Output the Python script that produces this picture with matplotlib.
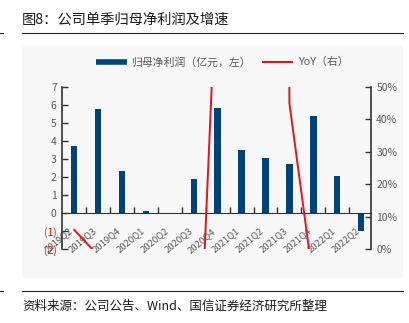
import matplotlib
matplotlib.use("Agg")
import matplotlib.pyplot as plt
from matplotlib.lines import Line2D
from matplotlib.patches import Rectangle
from matplotlib.ticker import FuncFormatter

plt.rcParams['font.family'] = ['Noto Sans CJK SC', 'DejaVu Sans']

# quarterly net profit attributable to parent (100m yuan) and its yoy growth
quarters = ['2019Q2', '2019Q3', '2019Q4', '2020Q1', '2020Q2', '2020Q3', '2020Q4',
            '2021Q1', '2021Q2', '2021Q3', '2021Q4', '2022Q1', '2022Q2']
profit = [3.70, 5.80, 2.36, 0.13, 0.0, 1.90, 5.86, 3.49, 3.08, 2.73, 5.37, 2.05, -1.0]
yoy = [0.059, -0.02, -0.40, -0.97, -1.00, -0.78, 0.93, 33.9, 20.0, 0.45, -0.10, -0.41, -1.11]

blue = '#00427a'
red = '#e3141c'
grey = '#595959'

fig = plt.figure(figsize=(4.10, 3.23), dpi=100)

# light panel behind the chart
fig.patches.append(Rectangle((22 / 410, 1 - 278 / 323), 381 / 410, 233 / 323,
                             transform=fig.transFigure, facecolor='#f7f7f7',
                             edgecolor='none', zorder=-5))

fig.text(22 / 410, 1 - 20 / 323, '图8：公司单季归母净利润及增速', fontsize=10.3,
         va='center', ha='left', color='#1a1a1a')
fig.add_artist(Line2D([22 / 410, 403 / 410], [1 - 33 / 323] * 2, color='#222222', lw=0.8))
fig.add_artist(Line2D([0, 3 / 410], [1 - 33 / 323] * 2, color='#222222', lw=0.8))
fig.add_artist(Line2D([22 / 410, 403 / 410], [1 - 291 / 323] * 2, color='#222222', lw=0.8))
fig.add_artist(Line2D([0, 3 / 410], [1 - 291 / 323] * 2, color='#222222', lw=0.8))
fig.text(22 / 410, 1 - 306 / 323, '资料来源：公司公告、Wind、国信证券经济研究所整理', fontsize=9,
         va='center', ha='left', color='#1a1a1a')

ax = fig.add_axes([62.3 / 410, 1 - 249 / 323, (370.7 - 62.3) / 410, (249 - 87) / 323])
ax.patch.set_visible(False)
x = list(range(len(quarters)))
ax.bar(x, profit, width=0.27, color=blue, zorder=2)
ax.set_xlim(-0.5, 12.4)
ax.set_ylim(-2, 7)
ax.set_yticks(range(-2, 8))
ax.yaxis.set_major_formatter(FuncFormatter(lambda v, p: f'({abs(int(v))})' if v < 0 else f'{int(v)}'))
ax.tick_params(axis='y', direction='in', length=4, width=1, color='#333333',
               labelsize=7.5, pad=4)

ax.spines['top'].set_visible(False)
ax.spines['right'].set_visible(False)
ax.spines['bottom'].set_position(('data', 0))
ax.spines['bottom'].set_color('#333333')
ax.spines['left'].set_color('#333333')
ax.spines['left'].set_linewidth(1.2)

ax.set_xticks(x)
ax.set_xticklabels(quarters, rotation=40, ha='right', va='top',
                   fontsize=6.8, color=grey)
ax.tick_params(axis='x', which='major', length=0, pad=9.5)
ax.set_xticks([i + 0.5 for i in range(12)], minor=True)
ax.tick_params(axis='x', which='minor', direction='in', length=4, width=1, color='#333333')

ax2 = ax.twinx()
ax2.plot(x, yoy, color=red, lw=1.4, zorder=3)
ax2.set_ylim(0, 0.5)
ax2.set_yticks([0, 0.1, 0.2, 0.3, 0.4, 0.5])
ax2.yaxis.set_major_formatter(FuncFormatter(lambda v, p: f'{v * 100:.0f}%'))
ax2.tick_params(axis='y', direction='in', length=4, width=1, color='#333333',
                labelsize=7.5, labelcolor=grey, pad=4)
for s in ['top', 'bottom', 'left']:
    ax2.spines[s].set_visible(False)
ax2.spines['right'].set_color('#333333')
ax2.spines['right'].set_linewidth(1.2)

fig.canvas.draw()
for lab in ax.get_yticklabels():
    lab.set_color(red if lab.get_text().startswith('(') else grey)

handles = [Line2D([], [], color=blue, lw=4, solid_capstyle='butt'),
           Line2D([], [], color=red, lw=1.5, solid_capstyle='butt')]
fig.legend(handles, ['归母净利润（亿元，左）', 'YoY（右）'], loc='center',
           bbox_to_anchor=(222 / 410, 1 - 62 / 323), ncol=2, frameon=False,
           fontsize=7.8, handlelength=2.9, columnspacing=1.0, handletextpad=0.4,
           labelcolor=grey)

fig.savefig('out.png', dpi=100)
